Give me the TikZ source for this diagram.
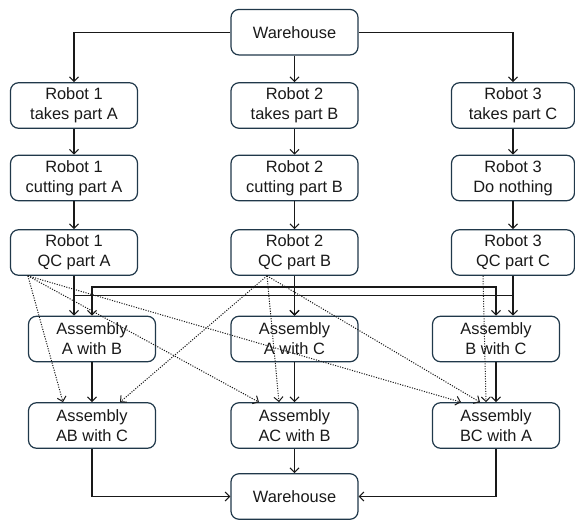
\documentclass[tikz,border=0pt]{standalone}
\usepackage{fontspec}
\setmainfont{Liberation Sans}
\usetikzlibrary{arrows.meta}
\definecolor{boxline}{RGB}{32,56,74}
\definecolor{ink}{RGB}{25,25,25}
\begin{document}
\begin{tikzpicture}[x=1pt,y=-1pt,
  stage/.style={draw=boxline, line width=1.2pt, rounded corners=8pt,
    minimum width=127pt, minimum height=45.5pt, inner sep=0pt,
    align=center, text=ink, font={\fontsize{16.4}{20}\selectfont}},
  narrow/.style={minimum width=123pt},
  flow/.style={draw=ink, line width=1.1pt, -{Straight Barb[length=4.5pt,width=9pt]}},
  maybe/.style={draw=ink, line width=1pt, dash pattern=on 1.1pt off 1.4pt,
    -{Straight Barb[length=4.5pt,width=9pt]}}]
\useasboundingbox (0,0) rectangle (575,519);

% source warehouse
\node[stage] (w1) at (294.5,32.2) {Warehouse};

% robot lanes
\node[stage] (r1a) at (74,105.5) {Robot 1\\takes part A};
\node[stage] (r2a) at (294.5,105.5) {Robot 2\\takes part B};
\node[stage,narrow] (r3a) at (513,105.5) {Robot 3\\takes part C};

\node[stage] (r1b) at (74,178) {Robot 1\\cutting part A};
\node[stage] (r2b) at (294.5,178) {Robot 2\\cutting part B};
\node[stage,narrow] (r3b) at (513,178) {Robot 3\\Do nothing};

\node[stage] (r1c) at (74,252.5) {Robot 1\\QC part A};
\node[stage] (r2c) at (294.5,252.5) {Robot 2\\QC part B};
\node[stage,narrow] (r3c) at (513,252.5) {Robot 3\\QC part C};

% first assembly stage
\node[stage] (a1) at (92,339) {Assembly\\A with B};
\node[stage] (a2) at (294.5,339) {Assembly\\A with C};
\node[stage] (a3) at (496,339) {Assembly\\B with C};

% second assembly stage
\node[stage] (b1) at (92,425.5) {Assembly\\AB with C};
\node[stage] (b2) at (294.5,425.5) {Assembly\\AC with B};
\node[stage] (b3) at (496,425.5) {Assembly\\BC with A};

% destination warehouse
\node[stage] (w2) at (294.5,496.5) {Warehouse};

% distribution buses between QC and assembly
\coordinate (busB) at (0,287);
\coordinate (busA) at (0,295.5);

% warehouse to robots
\draw[flow] (w1.west) -| (r1a.north);
\draw[flow] (w1.east) -| (r3a.north);
\draw[flow] (w1.south) -- (r2a.north);

% robot lanes
\draw[flow] (r1a.south) -- (r1b.north);
\draw[flow] (r2a.south) -- (r2b.north);
\draw[flow] (r3a.south) -- (r3b.north);
\draw[flow] (r1b.south) -- (r1c.north);
\draw[flow] (r2b.south) -- (r2c.north);
\draw[flow] (r3b.south) -- (r3c.north);

% QC outputs into first assembly stage
\draw[flow] (r1c.south) -- (r1c.south |- a1.north);
\draw[flow] (r1c.south) -- (r1c.south |- busA) -| (a2.north);
\draw[flow] (r3c.south) -- (r3c.south |- busA) -| (a2.north);
\draw[flow] (r3c.south) -- (r3c.south |- a3.north);
\draw[flow] (r2c.south) -- (r2c.south |- busB) -| (a1.north);
\draw[flow] (r2c.south) -- (r2c.south |- busB) -| (a3.north);
\draw[flow] (r2c.south) -- (a2.north);

% first to second assembly stage
\draw[flow] (a1.south) -- (b1.north);
\draw[flow] (a2.south) -- (b2.north);
\draw[flow] (a3.south) -- (b3.north);

% second assembly stage to warehouse
\draw[flow] (b1.south) |- (w2.west);
\draw[flow] (b3.south) |- (w2.east);
\draw[flow] (b2.south) -- (w2.north);

% optional direct routes
\coordinate (qa) at ([xshift=18pt]r1c.south west);
\coordinate (qb) at ([xshift=-27.5pt]r2c.south);
\coordinate (qc) at ([xshift=-30pt]r3c.south);
\draw[maybe] (qa) -- ([xshift=-29pt]b1.north);
\draw[maybe] (qa) -- ([xshift=-35.5pt]b2.north);
\draw[maybe] (qa) -- ([xshift=-35pt]b3.north);
\draw[maybe] (qb) -- ([xshift=28pt]b1.north);
\draw[maybe] (qb) -- ([xshift=-15.5pt]b2.north);
\draw[maybe] (qb) -- ([xshift=-16pt]b3.north);
\draw[maybe] (qc) -- ([xshift=-10pt]b3.north);
\end{tikzpicture}
\end{document}
